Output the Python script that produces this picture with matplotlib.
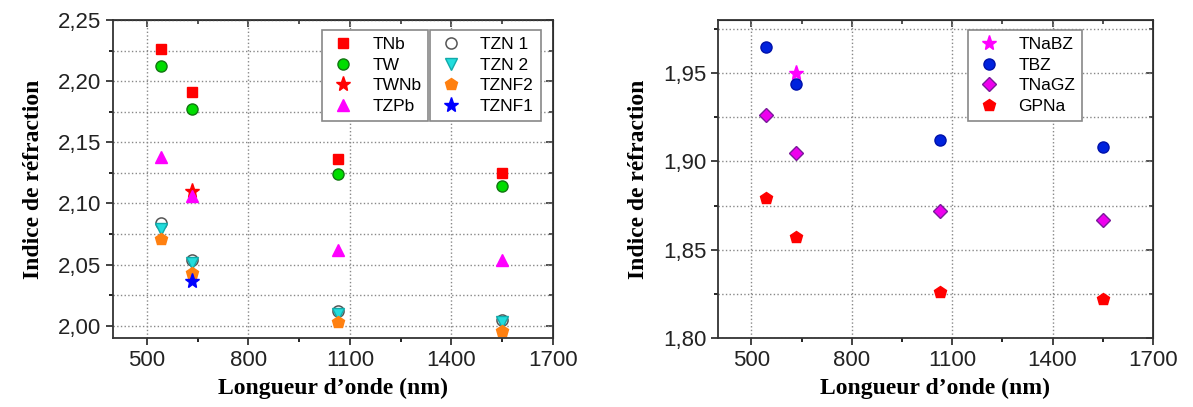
import numpy as np
import matplotlib
matplotlib.use("Agg")
import matplotlib.pyplot as plt
from matplotlib.ticker import MultipleLocator, FuncFormatter, FixedLocator

# wavelengths (nm)
wl = [543, 633, 1064, 1550]

# left panel series
tnb = [2.226, 2.191, 2.136, 2.125]
tw = [2.212, 2.177, 2.124, 2.114]
twnb_wl = [633]
twnb = [2.110]
tzpb = [2.138, 2.106, 2.062, 2.054]
tzn1 = [2.084, 2.054, 2.012, 2.005]
tzn2 = [2.079, 2.051, 2.010, 2.003]
tznf2 = [2.071, 2.043, 2.003, 1.996]
tznf1_wl = [633]
tznf1 = [2.037]

# right panel series
tnabz_wl = [633]
tnabz = [1.950]
tbz = [1.965, 1.944, 1.912, 1.908]
tnagz = [1.926, 1.905, 1.872, 1.867]
gpna = [1.879, 1.857, 1.826, 1.822]

x_major = [500, 800, 1100, 1400, 1700]
x_minor = [650, 950, 1250, 1550]

TICK_FONT = 'Liberation Sans'
LABEL_FONT = 'Liberation Serif'

fig = plt.figure(figsize=(11.93, 4.07), dpi=100)
ax1 = fig.add_axes([0.0947, 0.1695, 0.3688, 0.7813])
ax2 = fig.add_axes([0.6018, 0.1695, 0.3646, 0.7813])

comma = FuncFormatter(lambda v, p: f"{v:.2f}".replace('.', ','))


def style_axes(ax, ymin, ymax):
    ax.set_xlim(400, 1700)
    ax.set_ylim(ymin, ymax)
    ax.xaxis.set_major_locator(FixedLocator(x_major))
    ax.xaxis.set_minor_locator(FixedLocator(x_minor))
    ax.yaxis.set_major_locator(MultipleLocator(0.05))
    ax.yaxis.set_minor_locator(MultipleLocator(0.025))
    ax.yaxis.set_major_formatter(comma)
    ax.grid(True, which='major', axis='x', linestyle=':', color='#888888', linewidth=1.0)
    ax.grid(True, which='both', axis='y', linestyle=':', color='#888888', linewidth=1.0)
    ax.tick_params(which='both', width=1.2)
    ax.tick_params(which='major', length=5)
    ax.tick_params(which='minor', length=3)
    ax.tick_params(labelsize=16, colors='#222222')
    for lab in ax.get_xticklabels() + ax.get_yticklabels():
        lab.set_fontfamily(TICK_FONT)
    for s in ax.spines.values():
        s.set_linewidth(1.3)
        s.set_color('#333333')
    ax.set_axisbelow(True)
    ax.set_xlabel("Longueur d\u2019onde (nm)", fontfamily=LABEL_FONT, fontweight='bold',
                  fontsize=17, labelpad=5)
    ax.set_ylabel("Indice de r\u00e9fraction", fontfamily=LABEL_FONT, fontweight='bold',
                  fontsize=17, labelpad=10)

    # mirrored ticks pointing inside on top and right
    top = ax.secondary_xaxis('top')
    top.xaxis.set_major_locator(FixedLocator(x_major))
    top.xaxis.set_minor_locator(FixedLocator(x_minor))
    top.tick_params(which='both', direction='in', labeltop=False, width=1.2, colors='#333333')
    top.tick_params(which='major', length=5)
    top.tick_params(which='minor', length=3)
    right = ax.secondary_yaxis('right')
    right.yaxis.set_major_locator(MultipleLocator(0.05))
    right.yaxis.set_minor_locator(MultipleLocator(0.025))
    right.tick_params(which='both', direction='in', labelright=False, width=1.2, colors='#333333')
    right.tick_params(which='major', length=5)
    right.tick_params(which='minor', length=3)


style_axes(ax1, 1.99, 2.25)
style_axes(ax2, 1.80, 1.98)

ms = 8
h_tnb, = ax1.plot(wl, tnb, 's', color='red', ms=ms - 1, mec='red', label='TNb')
h_tw, = ax1.plot(wl, tw, 'o', color='#00dd00', ms=ms, mec='#117711', label='TW')
h_twnb, = ax1.plot(twnb_wl, twnb, '*', color='red', ms=ms + 3, mec='red', label='TWNb')
h_tzpb, = ax1.plot(wl, tzpb, '^', color='magenta', ms=ms + 1, mec='magenta', label='TZPb')
h_tzn1, = ax1.plot(wl, tzn1, 'o', color='none', ms=ms, mec='#555555', mew=1.1, label='TZN 1')
h_tzn2, = ax1.plot(wl, tzn2, 'v', color='#22dddd', ms=ms + 1, mec='#11aaaa', label='TZN 2')
h_tznf2, = ax1.plot(wl, tznf2, 'p', color='#ff8010', ms=ms + 1, mec='#ff8010', label='TZNF2')
h_tznf1, = ax1.plot(tznf1_wl, tznf1, '*', color='blue', ms=ms + 3, mec='blue', label='TZNF1')

leg_kw = dict(loc='upper left', borderaxespad=0, fancybox=False, edgecolor='#888888',
              framealpha=1, prop={'family': TICK_FONT, 'size': 12.5}, handletextpad=0.9,
              labelspacing=0.32, borderpad=0.4, handlelength=1.6)
leg1 = ax1.legend(handles=[h_tnb, h_tw, h_twnb, h_tzpb], bbox_to_anchor=(0.475, 0.969), **leg_kw)
leg1.get_frame().set_linewidth(1.2)
ax1.add_artist(leg1)
leg2 = ax1.legend(handles=[h_tzn1, h_tzn2, h_tznf2, h_tznf1], bbox_to_anchor=(0.72, 0.969), **leg_kw)
leg2.get_frame().set_linewidth(1.2)

ax2.plot(tnabz_wl, tnabz, '*', color='magenta', ms=ms + 3, mec='magenta', label='TNaBZ')
ax2.plot(wl, tbz, 'o', color='#0022dd', ms=ms, mec='#0011aa', label='TBZ')
ax2.plot(wl, tnagz, 'D', color='#ee00ee', ms=ms - 1, mec='#7a1a9a', label='TNaGZ')
ax2.plot(wl, gpna, 'p', color='red', ms=ms + 1, mec='red', label='GPNa')
leg3 = ax2.legend(bbox_to_anchor=(0.575, 0.969), **leg_kw)
leg3.get_frame().set_linewidth(1.2)

fig.savefig('out.png', dpi=100)
